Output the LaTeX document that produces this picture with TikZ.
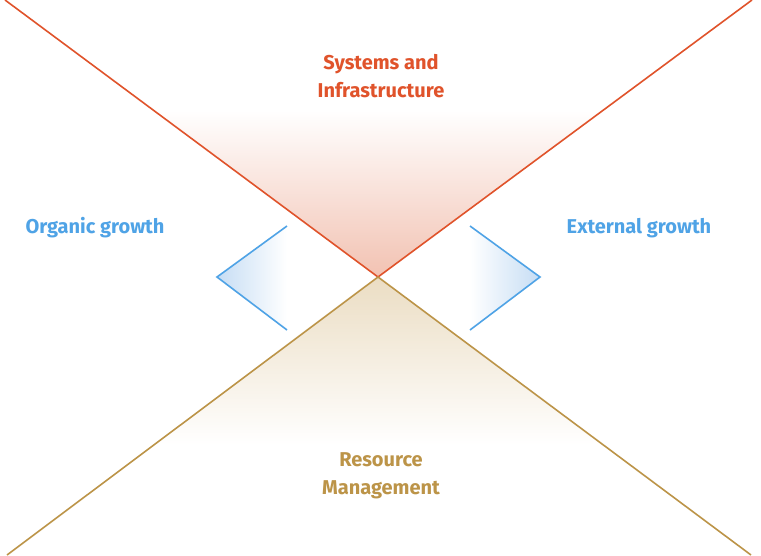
\documentclass[tikz,border=0pt]{standalone}
\usepackage{fontspec}
\setmainfont{Fira Sans}
\begin{document}
\begin{tikzpicture}[x=1pt,y=-1pt,
  lbl/.style={font=\fontsize{20}{28}\selectfont\bfseries, align=center, inner sep=0pt},
  redline/.style={draw=redc, line width=1.6pt},
  goldline/.style={draw=goldc, line width=1.6pt},
  blueline/.style={draw=bluec, line width=1.6pt}]
\definecolor{redc}{HTML}{E0532B}
\definecolor{goldc}{HTML}{BC9448}
\definecolor{bluec}{HTML}{4FA3E6}
\definecolor{redfill}{HTML}{F2C2B2}
\definecolor{goldfill}{HTML}{EBDDC3}
\definecolor{bluefill}{HTML}{C6DDF4}
\useasboundingbox[fill=white] (0,0) rectangle (761,555);
\coordinate (c) at (378,277);
\coordinate (tl) at (5,0);
\coordinate (tr) at (752,0);
\coordinate (bl) at (7,555);
\coordinate (br) at (751,555);
% fills
\shade[top color=white, bottom color=redfill] (c) -- (153,110) -- (603,110) -- cycle;
\shade[top color=goldfill, bottom color=white] (c) -- (154,445) -- (602,445) -- cycle;
\coordinate (l1) at (287,226); \coordinate (l2) at (217,277); \coordinate (l3) at (287,330);
\coordinate (r1) at (470,226); \coordinate (r2) at (540,277); \coordinate (r3) at (470,330);
\shade[left color=bluefill, right color=white] (l1) -- (l2) -- (l3) -- cycle;
\shade[left color=white, right color=bluefill] (r1) -- (r2) -- (r3) -- cycle;
% lines
\draw[redline] (tl) -- (c) -- (tr);
\draw[goldline] (bl) -- (c) -- (br);
\draw[blueline] (l1) -- (l2) -- (l3);
\draw[blueline] (r1) -- (r2) -- (r3);
% labels
\node[lbl, text=redc] (sys) at (381,76) {Systems and\\Infrastructure};
\node[lbl, text=goldc] (res) at (381,476) {Resource\\Management};
\node[lbl, text=bluec] (org) at (95,228) {Organic growth};
\node[lbl, text=bluec] (ext) at (639,228) {External growth};
\end{tikzpicture}
\end{document}
